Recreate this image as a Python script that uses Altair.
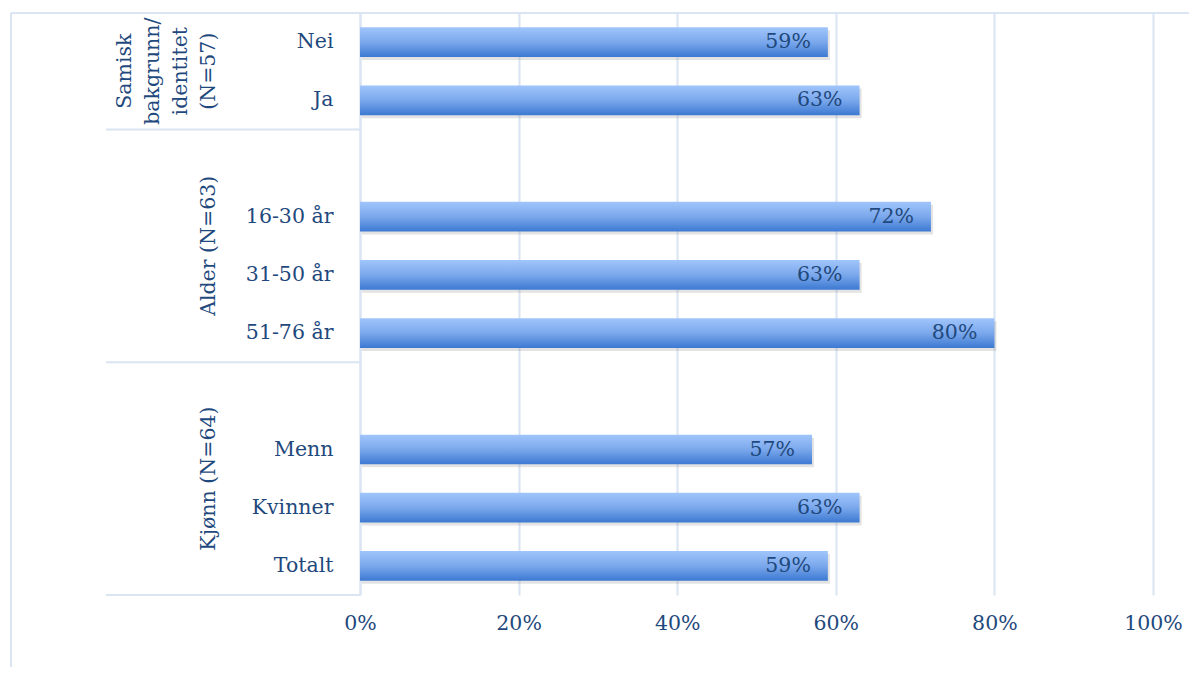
import altair as alt
import pandas as pd

# Rows from top to bottom (blank rows separate the groups)
rows = ["Nei", "Ja", "_b1", "16-30 år", "31-50 år", "51-76 år", "_b2", "Menn", "Kvinner", "Totalt"]
bar_cats = ["Nei", "Ja", "16-30 år", "31-50 år", "51-76 år", "Menn", "Kvinner", "Totalt"]
bar_vals = [0.59, 0.63, 0.72, 0.63, 0.80, 0.57, 0.63, 0.59]
bar_labels = ["59%", "63%", "72%", "63%", "80%", "57%", "63%", "59%"]

# Group labels (centre = end of the named row)
multi_group_name = ["Samisk\nbakgrunn/\nidentitet\n(N=57)"]
multi_group_after = ["Nei"]
single_group_names = ["Alder (N=63)", "Kjønn (N=64)"]
single_group_after = ["16-30 år", "Menn"]
group_sep_after = ["Ja", "51-76 år", "Totalt"]        # separator line = end of this row

x_ticks = [0, 0.2, 0.4, 0.6, 0.8, 1.0]

FONT = "DejaVu Serif"
FS = 20.5
TXT = "#1F497D"
GRID = "#DAE4F2"

bars = pd.DataFrame({"cat": bar_cats, "val": bar_vals, "lab": bar_labels})
groups1 = pd.DataFrame({"cat": single_group_after, "name": single_group_names})
groups4 = pd.DataFrame({"cat": multi_group_after, "name": multi_group_name})
seps = pd.DataFrame({"cat": group_sep_after})

yscale = alt.Scale(domain=rows, paddingInner=0, paddingOuter=0)
xscale = alt.Scale(domain=[0, 1])

xaxis = alt.Axis(
    values=x_ticks, format=".0%", title=None, grid=True, gridColor=GRID, gridWidth=2,
    ticks=False, domain=False, labelFont=FONT, labelFontSize=FS, labelColor=TXT,
    labelPadding=18, labelFlush=False,
)
yaxis = alt.Axis(
    title=None, ticks=False, domain=True, domainColor=GRID, domainWidth=2, grid=False,
    labelFont=FONT, labelFontSize=FS, labelColor=TXT, labelPadding=27,
    labelExpr="indexof(datum.label, '_') == 0 ? '' : datum.label",
)


def X(field="val:Q"):
    return alt.X(field, scale=xscale, axis=xaxis)


def Y(bp=None):
    if bp is None:
        return alt.Y("cat:N", scale=yscale, sort=rows, axis=yaxis)
    return alt.Y("cat:N", scale=yscale, sort=rows, axis=yaxis, bandPosition=bp)


grad = alt.Gradient(
    gradient="linear",
    stops=[
        alt.GradientStop(color="#A0C5FB", offset=0),
        alt.GradientStop(color="#7BA8EC", offset=0.5),
        alt.GradientStop(color="#3C79D2", offset=1),
    ],
    x1=0, x2=0, y1=0, y2=1,
)

shadow = alt.Chart(bars).mark_bar(
    height=alt.RelativeBandSize(0.51), color="#808080", opacity=0.22, xOffset=2, yOffset=3
).encode(x=X(), y=Y())

bar = alt.Chart(bars).mark_bar(height=alt.RelativeBandSize(0.51), color=grad).encode(
    x=X(), y=Y()
)

labels = alt.Chart(bars).mark_text(
    align="right", baseline="middle", dx=-17, font=FONT, fontSize=FS, color=TXT
).encode(x=X(), y=Y(), text="lab:N")

group_text1 = alt.Chart(groups1).mark_text(
    angle=270, align="center", baseline="bottom",
    font=FONT, fontSize=FS, color=TXT,
).encode(x=alt.value(-141), y=Y(1), text="name:N")

group_text4 = alt.Chart(groups4).mark_text(
    angle=270, align="center", baseline="bottom", lineBreak="\n", lineHeight=28,
    font=FONT, fontSize=FS, color=TXT,
).encode(x=alt.value(-141 - 3 * 28), y=Y(1), text="name:N")

sep_rules = alt.Chart(seps).mark_rule(color=GRID, strokeWidth=2).encode(
    x=alt.value(-254), x2=alt.value(0), y=Y(1)
)

top_border = alt.Chart(bars).mark_rule(color=GRID, strokeWidth=2).encode(
    x=alt.value(-349), x2=alt.value(840), y=alt.value(0)
)
left_border = alt.Chart(bars).mark_rule(color=GRID, strokeWidth=2).encode(
    x=alt.value(-349), y=alt.value(0), y2=alt.value(700)
)

chart = alt.layer(
    shadow, bar, labels, group_text1, group_text4, sep_rules, top_border, left_border
).properties(
    width=793, height=582, background="white",
    autosize=alt.AutoSizeParams(type="none"),
    padding={"left": 352, "top": 5, "right": 36, "bottom": 72},
).configure_view(stroke=None)

chart.save("out.html", embed_options={"renderer": "svg", "actions": False})
